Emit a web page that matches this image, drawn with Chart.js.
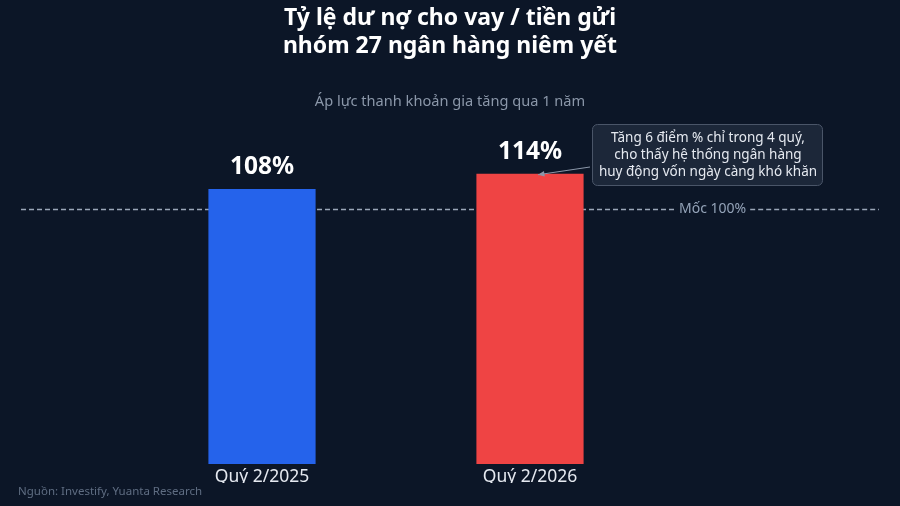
<!DOCTYPE html>
<html><head><meta charset="utf-8">
<script src="https://cdn.jsdelivr.net/npm/chart.js@4"></script>
<style>html,body{margin:0;padding:0;background:#0c1627;}#wrap{width:900px;height:506px;}</style>
</head><body><div id="wrap"><canvas id="c" width="900" height="506"></canvas></div>
<script>
const categories = ["Quý 2/2025", "Quý 2/2026"];
const ratioValues = [108, 114];
const barColors = ["#2563eb", "#ef4444"];
const valueLabels = ["108%", "114%"];
const thresholdValue = 100;
const thresholdLabel = "Mốc 100%";
const titleLines = ["Tỷ lệ dư nợ cho vay / tiền gửi", "nhóm 27 ngân hàng niêm yết"];
const subtitleText = "Áp lực thanh khoản gia tăng qua 1 năm";
const noteLines = ["Tăng 6 điểm % chỉ trong 4 quý,", "cho thấy hệ thống ngân hàng", "huy động vốn ngày càng khó khăn"];
const sourceText = "Nguồn: Investify, Yuanta Research";

const FONT = "'Noto Sans', 'DejaVu Sans', sans-serif";

const bgPlugin = {
  id: 'bg',
  beforeDraw(chart) {
    const ctx = chart.ctx;
    ctx.save();
    ctx.fillStyle = '#0c1627';
    ctx.fillRect(0, 0, chart.width, chart.height);
    ctx.restore();
  },
  beforeDatasetsDraw(chart) {
    const ctx = chart.ctx;
    const y = Math.round(chart.scales.y.getPixelForValue(thresholdValue)) + 0.5;
    ctx.save();
    ctx.font = "14px " + FONT;
    const tw = ctx.measureText(thresholdLabel).width;
    const tx = 679;
    ctx.strokeStyle = '#9aa6b8';
    ctx.lineWidth = 1.5;
    ctx.setLineDash([5, 3]);
    ctx.beginPath();
    ctx.moveTo(21, y); ctx.lineTo(tx - 5, y);
    ctx.moveTo(tx + tw + 4, y); ctx.lineTo(879, y);
    ctx.stroke();
    ctx.setLineDash([]);
    ctx.fillStyle = '#94a3b8';
    ctx.textAlign = 'left';
    ctx.textBaseline = 'middle';
    ctx.fillText(thresholdLabel, tx, y);
    ctx.restore();
  },
  afterDraw(chart) {
    const ctx = chart.ctx;
    const xs = chart.scales.x, ys = chart.scales.y;
    ctx.save();
    // titles
    ctx.fillStyle = '#ffffff';
    ctx.textAlign = 'center';
    ctx.textBaseline = 'middle';
    ctx.font = "bold 23px " + FONT;
    ctx.fillText(titleLines[0], 450, 18);
    ctx.fillText(titleLines[1], 450, 46);
    ctx.font = "14.6px " + FONT;
    ctx.fillStyle = '#8b97a9';
    ctx.fillText(subtitleText, 450, 102);
    // value labels
    ctx.font = "bold 24.5px " + FONT;
    ctx.fillStyle = '#ffffff';
    ctx.textBaseline = 'alphabetic';
    ratioValues.forEach((v, i) => {
      ctx.fillText(valueLabels[i], xs.getPixelForValue(i), ys.getPixelForValue(v) - 15);
    });
    // source
    ctx.font = "11.5px " + FONT;
    ctx.fillStyle = '#5f6d82';
    ctx.textAlign = 'left';
    ctx.textBaseline = 'middle';
    ctx.fillText(sourceText, 18, 492);
    // annotation box
    const bx = 592, by = 124, bw = 230, bh = 61;
    ctx.fillStyle = '#1c2739';
    ctx.strokeStyle = '#4a5568';
    ctx.lineWidth = 1;
    ctx.beginPath();
    ctx.roundRect(bx + 0.5, by + 0.5, bw, bh, 5);
    ctx.fill(); ctx.stroke();
    ctx.fillStyle = '#e5e9f0';
    ctx.font = "13.5px " + FONT;
    ctx.textAlign = 'center';
    noteLines.forEach((t, i) => ctx.fillText(t, bx + bw / 2 + 1, by + 14 + i * 17));
    // arrow
    const tx = xs.getPixelForValue(1) + 8, ty = ys.getPixelForValue(ratioValues[1]) + 1;
    const sx = bx - 2, sy = 167;
    ctx.strokeStyle = '#8b97a9';
    ctx.fillStyle = '#8b97a9';
    ctx.lineWidth = 1;
    ctx.beginPath(); ctx.moveTo(sx, sy); ctx.lineTo(tx, ty); ctx.stroke();
    const ang = Math.atan2(ty - sy, tx - sx);
    ctx.beginPath();
    ctx.moveTo(tx, ty);
    ctx.lineTo(tx - 7 * Math.cos(ang - 0.4), ty - 7 * Math.sin(ang - 0.4));
    ctx.lineTo(tx - 7 * Math.cos(ang + 0.4), ty - 7 * Math.sin(ang + 0.4));
    ctx.closePath(); ctx.fill();
    ctx.restore();
  }
};

new Chart(document.getElementById('c'), {
  type: 'bar',
  data: {
    labels: categories,
    datasets: [{ data: ratioValues, backgroundColor: barColors, borderWidth: 0,
      barPercentage: 0.4, categoryPercentage: 1.0 }]
  },
  options: {
    responsive: false,
    animation: false,
    devicePixelRatio: 1,
    layout: { padding: { left: 128, right: 236, top: 133, bottom: 23 } },
    plugins: { legend: { display: false }, tooltip: { enabled: false }, title: { display: false } },
    scales: {
      x: {
        grid: { display: false }, border: { display: false },
        ticks: { color: '#e5e9f0', font: { family: FONT, size: 17.5 }, padding: -5 }
      },
      y: { display: false, min: 0, max: 130 }
    }
  },
  plugins: [bgPlugin]
});
</script></body></html>
